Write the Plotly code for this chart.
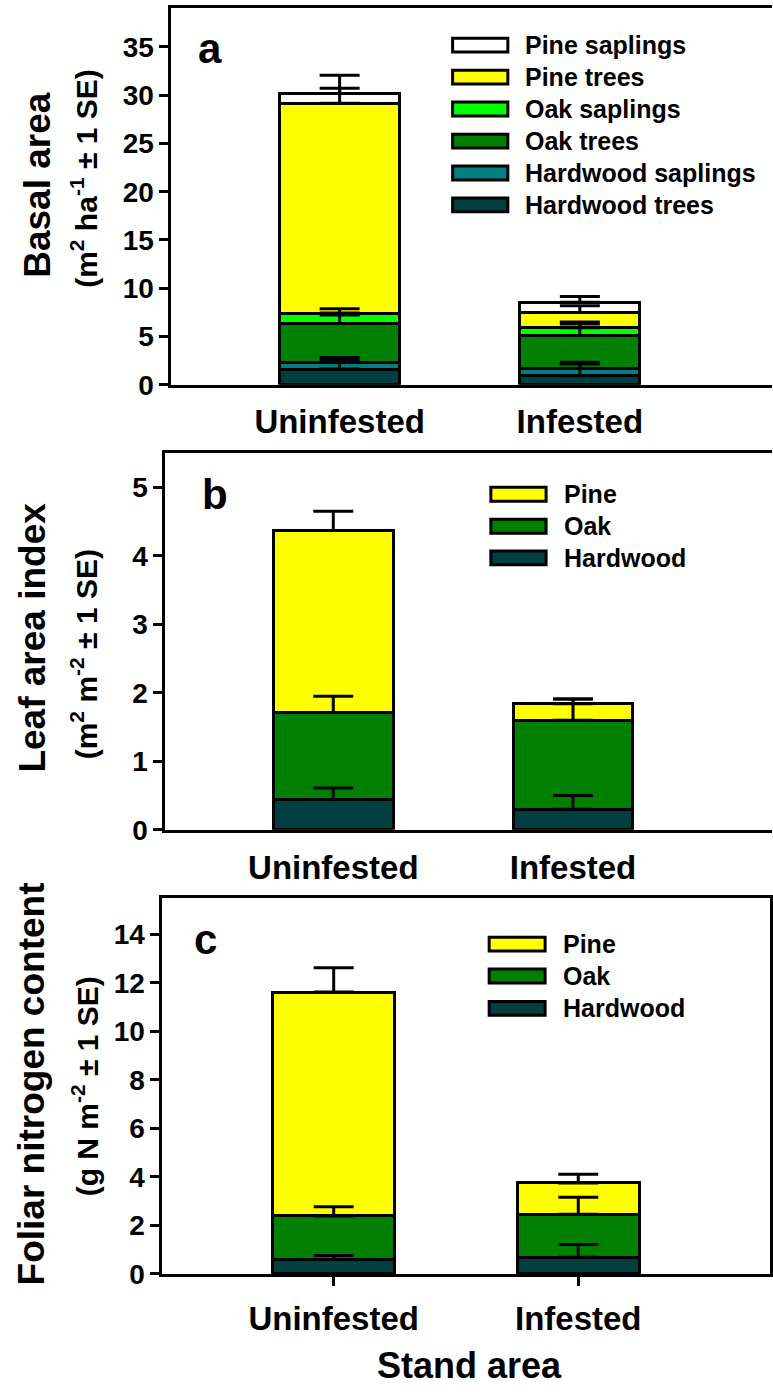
import numpy as np
import plotly.graph_objects as go

# ---------------- data ----------------
categories = ["Uninfested", "Infested"]

# Panel a: basal area (m2 ha-1), stacked bottom -> top
ba_names = ["Hardwood trees", "Hardwood saplings", "Oak trees", "Oak saplings", "Pine trees", "Pine saplings"]
ba_hw_trees = [1.64, 0.95]
ba_hw_saplings = [0.68, 0.75]
ba_oak_trees = [4.02, 3.41]
ba_oak_saplings = [1.09, 0.79]
ba_pine_trees = [21.72, 1.60]
ba_pine_saplings = [1.02, 1.06]
ba_se_hw_trees = [0.90, 1.20]
ba_se_hw_saplings = [0.50, 0.65]
ba_se_oak_trees = [0.90, 1.20]
ba_se_oak_saplings = [0.45, 0.60]
ba_se_pine_trees = [1.55, 0.70]
ba_se_pine_saplings = [1.90, 0.60]

# Panel b: leaf area index
lai_names = ["Hardwood", "Oak", "Pine"]
lai_hardwood = [0.44, 0.30]
lai_oak = [1.27, 1.30]
lai_pine = [2.66, 0.24]
lai_se_hardwood = [0.17, 0.20]
lai_se_oak = [0.24, 0.31]
lai_se_pine = [0.28, 0.07]

# Panel c: foliar nitrogen content
fn_names = ["Hardwood", "Oak", "Pine"]
fn_hardwood = [0.60, 0.69]
fn_oak = [1.79, 1.77]
fn_pine = [9.23, 1.29]
fn_se_hardwood = [0.16, 0.52]
fn_se_oak = [0.38, 0.70]
fn_se_pine = [1.00, 0.36]

# ---------------- styling ----------------
W, H = 773, 1399
FONT = "Liberation Sans, Arial, Helvetica, sans-serif"

C_PINE_SAP = "#FFFFFF"
C_PINE = "#FFFF00"
C_OAK_SAP = "#00FF00"
C_OAK = "#008000"
C_HW_SAP = "#008080"
C_HW = "#003F3F"


def px(x):
    return x / W


def py(y):
    return 1 - y / H


panels = [
    dict(xa="x", ya="y", names=ba_names,
         vals=[ba_hw_trees, ba_hw_saplings, ba_oak_trees, ba_oak_saplings, ba_pine_trees, ba_pine_saplings],
         ses=[ba_se_hw_trees, ba_se_hw_saplings, ba_se_oak_trees, ba_se_oak_saplings, ba_se_pine_trees, ba_se_pine_saplings],
         colors=[C_HW, C_HW_SAP, C_OAK, C_OAK_SAP, C_PINE, C_PINE_SAP]),
    dict(xa="x2", ya="y2", names=lai_names,
         vals=[lai_hardwood, lai_oak, lai_pine],
         ses=[lai_se_hardwood, lai_se_oak, lai_se_pine],
         colors=[C_HW, C_OAK, C_PINE]),
    dict(xa="x3", ya="y3", names=fn_names,
         vals=[fn_hardwood, fn_oak, fn_pine],
         ses=[fn_se_hardwood, fn_se_oak, fn_se_pine],
         colors=[C_HW, C_OAK, C_PINE]),
]

fig = go.Figure()

for p in panels:
    for name, v, c in zip(p["names"], p["vals"], p["colors"]):
        fig.add_trace(go.Bar(
            x=categories, y=v, name=name, width=0.5,
            marker=dict(color=c, line=dict(color="black", width=3)),
            xaxis=p["xa"], yaxis=p["ya"], showlegend=False, hoverinfo="skip"))
    cum = np.cumsum(np.array(p["vals"]), axis=0)
    for name, top, se in zip(p["names"], cum, p["ses"]):
        fig.add_trace(go.Scatter(
            x=categories, y=top.tolist(), mode="markers",
            marker=dict(size=1, opacity=0),
            error_y=dict(type="data", symmetric=False, array=se, arrayminus=[0] * len(se),
                         color="black", thickness=3, width=20),
            xaxis=p["xa"], yaxis=p["ya"], showlegend=False, hoverinfo="skip"))

axis_common = dict(showline=True, linecolor="black", linewidth=3, showgrid=False, zeroline=False,
                   fixedrange=True)
xfont = dict(family=FONT, size=33, color="black", weight="bold")
yfont = dict(family=FONT, size=28, color="black", weight="bold")

fig.update_layout(
    width=W, height=H, autosize=False,
    margin=dict(l=0, r=0, t=0, b=0),
    paper_bgcolor="white", plot_bgcolor="white",
    barmode="stack",
    font=dict(family=FONT, color="black"),
    xaxis=dict(domain=[px(171.7), 1.0], range=[-0.70, 1.80], mirror=True, ticks="",
               tickfont=xfont, anchor="y", ticklabelstandoff=6, **axis_common),
    yaxis=dict(domain=[py(389.3), py(8.3)], range=[0, 39], dtick=5, ticks="outside", ticklen=9,
               tickwidth=3, tickcolor="black", tickfont=yfont, anchor="x", **axis_common),
    xaxis2=dict(domain=[px(165.7), 1.0], range=[-0.70, 1.83], mirror=True, ticks="",
                tickfont=xfont, anchor="y2", ticklabelstandoff=7, **axis_common),
    yaxis2=dict(domain=[py(839.3), py(458.3)], range=[0, 5.5], dtick=1, ticks="outside", ticklen=9,
                tickwidth=3, tickcolor="black", tickfont=yfont, anchor="x2", **axis_common),
    xaxis3=dict(domain=[px(162.7), px(771)], range=[-0.70, 1.784], mirror=True, ticks="outside",
                ticklen=9, tickwidth=3, tickcolor="black",
                tickfont=xfont, anchor="y3", ticklabelstandoff=4, **axis_common),
    yaxis3=dict(domain=[py(1288.7), py(908.3)], range=[0, 15.5], dtick=2, ticks="outside", ticklen=9,
                tickwidth=3, tickcolor="black", tickfont=yfont, anchor="x3", mirror=True, **axis_common),
)

annotations = []
shapes = []


def ann(text, x, y, size, xanchor="center", yanchor="middle", angle=0):
    annotations.append(dict(text=text, x=px(x), y=py(y), xref="paper", yref="paper",
                            showarrow=False, xanchor=xanchor, yanchor=yanchor, textangle=angle,
                            font=dict(family=FONT, size=size, color="black", weight="bold")))


# panel letters
ann("a", 196, 49, 42, xanchor="left")
ann("b", 200, 500, 42, xanchor="left")
ann("c", 192, 950, 42, xanchor="left")

# y-axis titles
ann("Basal area", 38, 187, 37, angle=-90)
ann("(m<sup>2</sup> ha<sup>-1</sup> ± 1 SE)", 84, 180, 30, angle=-90)
ann("Leaf area index", 33, 645, 37, angle=-90)
ann("(m<sup>2</sup> m<sup>-2</sup> ± 1 SE)", 85, 662, 30, angle=-90)
ann("Foliar nitrogen content", 32, 1096, 37, angle=-90)
ann("(g N m<sup>-2</sup> ± 1 SE)", 86, 1099, 30, angle=-90)

# x-axis title
ann("Stand area", 470, 1381, 36)

# custom legends (top entry first)
legend_specs = [
    (ba_names, panels[0]["colors"], 451.7, 510.0, 524.0, [45.7, 78.0, 110.3, 142.7, 175.0, 207.3]),
    (lai_names, panels[1]["colors"], 490.0, 548.3, 562.7, [500.0, 532.3, 564.3]),
    (fn_names, panels[2]["colors"], 488.3, 547.3, 561.7, [955.0, 987.3, 1020.0]),
]
for names, colors, x0, x1, xt, rows in legend_specs:
    for name, color, yc in zip(names[::-1], colors[::-1], rows):
        shapes.append(dict(type="rect", xref="paper", yref="paper",
                           x0=px(x0 + 1.5), x1=px(x1 - 1.5), y0=py(yc + 7), y1=py(yc - 7),
                           fillcolor=color, line=dict(color="black", width=3)))
        ann(name, xt, yc, 25, xanchor="left")

fig.update_layout(annotations=annotations, shapes=shapes)

fig.write_html("out.html",
               config={"displayModeBar": False},
               post_script="document.body.style.margin='0px';document.body.style.padding='0px';")
